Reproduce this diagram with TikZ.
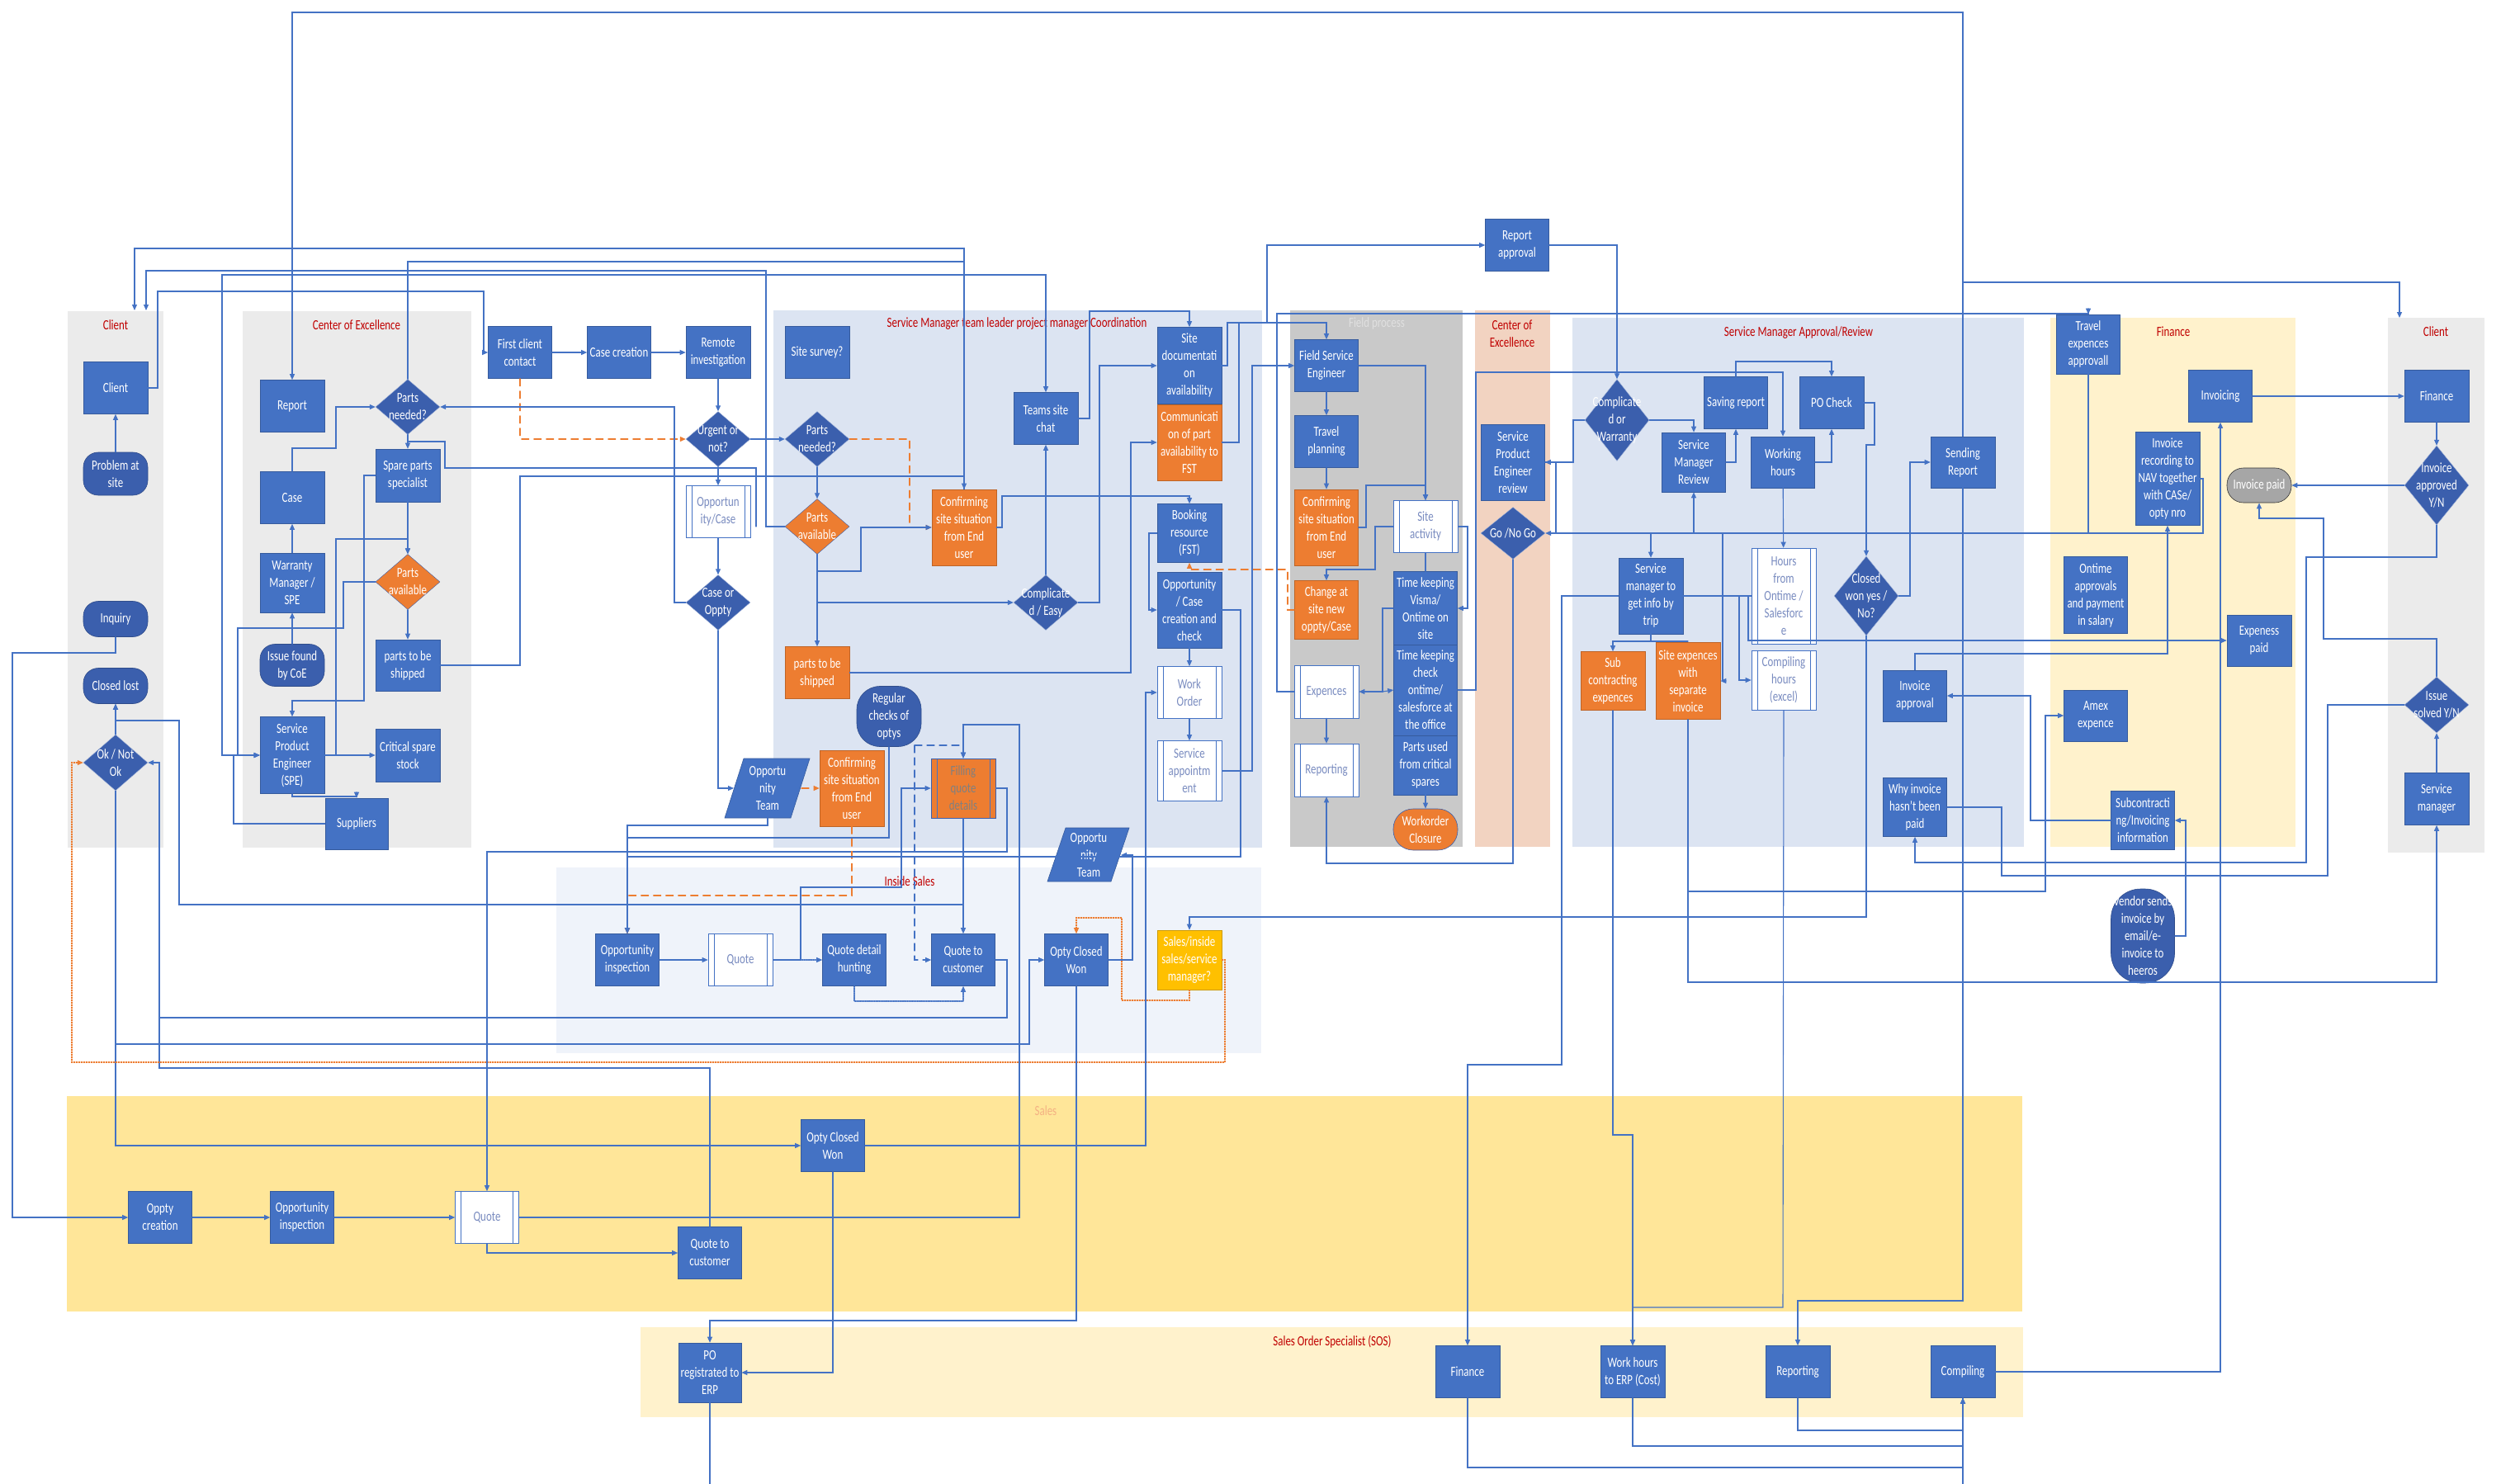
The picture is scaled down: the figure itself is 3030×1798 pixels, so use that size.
\documentclass[tikz,border=0pt]{standalone}
\usepackage{fontspec}
\setmainfont{Carlito}[FakeStretch=0.76]
\usetikzlibrary{shapes.geometric,arrows.meta}

\definecolor{boxblue}{HTML}{4472C4}
\definecolor{darkblue}{HTML}{3B5FAD}
\definecolor{orng}{HTML}{ED7D31}
\definecolor{gold}{HTML}{FFC000}
\definecolor{lanegray}{HTML}{EBEBEB}
\definecolor{fieldgray}{HTML}{C9C9C9}
\definecolor{peach}{HTML}{F2D3C1}
\definecolor{laneblue}{HTML}{DCE4F2}
\definecolor{paleblue}{HTML}{EFF3FA}
\definecolor{finyel}{HTML}{FFF2CC}
\definecolor{salesyel}{HTML}{FFE699}
\definecolor{titlered}{HTML}{C00000}
\definecolor{subtxt}{HTML}{7A8CC0}

\begin{document}
\begin{tikzpicture}[
			x=1pt, y=-1pt,
			line cap=round,
			font={\fontsize{17}{21}\selectfont},
			>={Triangle[length=7pt,width=6pt]},
			lanetitle/.style={text=titlered, align=center},
			base/.style={rectangle, align=center, inner sep=1pt, minimum width=78pt, minimum height=63pt, text=white, line width=0.6pt},
			box/.style={base, fill=boxblue, draw=boxblue!80!black},
			obox/.style={base, fill=orng, draw=orng!80!black},
			ybox/.style={base, fill=gold, draw=gold!80!black},
			term/.style={base, fill=darkblue, draw=darkblue!80!black, rounded corners=18pt},
			sub/.style={base, fill=white, draw=boxblue, text=subtxt,
				path picture={\draw[boxblue, line width=0.8pt]
					([xshift=7pt]path picture bounding box.north west) -- ([xshift=7pt]path picture bounding box.south west)
					([xshift=-7pt]path picture bounding box.north east) -- ([xshift=-7pt]path picture bounding box.south east);}},
			osub/.style={sub, fill=orng, draw=darkblue, text=gray},
			dia/.style={diamond, fill=darkblue, draw=white!55!darkblue, inner sep=0pt, minimum width=78pt, minimum height=67pt},
			odia/.style={dia, fill=orng, draw=darkblue},
			dtxt/.style={text=white, align=center, inner sep=0pt},
			ptxt/.style={base, minimum width=80pt, minimum height=70pt},
			paraback/.style={fill=boxblue, draw=boxblue!80!black, line width=0.6pt},
			ln/.style={draw=boxblue, line width=1.1pt},
			ar/.style={ln, ->},
			odash/.style={draw=orng, line width=1.1pt, dash pattern=on 9pt off 6pt},
			odot/.style={draw=orng, line width=1.1pt, dash pattern=on 1.5pt off 1.5pt},
			bdash/.style={dash pattern=on 9pt off 6pt},
		]
			\useasboundingbox (0,0) rectangle (3030,1798);

			\fill[lanegray] (82,377) rectangle (198,1027);
			\fill[lanegray] (294,377) rectangle (571,1027);
			\fill[laneblue] (937,376) rectangle (1529,1027);
			\fill[fieldgray] (1563,376) rectangle (1772,1026);
			\fill[peach] (1787,376) rectangle (1878,1026);
			\fill[laneblue] (1905,385) rectangle (2452,1026);
			\fill[finyel] (2484,385) rectangle (2781,1026);
			\fill[lanegray] (2893,385) rectangle (3010,1033);
			\fill[paleblue] (674,1051) rectangle (1528,1276);
			\fill[salesyel] (81,1328) rectangle (2450,1589);
			\fill[finyel] (776,1608) rectangle (2451,1717);

			\node[lanetitle] (tcl) at (140,394) {Client};
			\node[lanetitle] (tcoe) at (432,394) {Center of Excellence};
			\node[lanetitle] (tsmc) at (1232,392) {Service Manager team leader project manager Coordination};
			\node[lanetitle, text=white!88!black] (tfld) at (1668,392) {Field process};
			\node[lanetitle] (tcoe2) at (1832,404) {Center of\\Excellence};
			\node[lanetitle] (tsma) at (2179,403) {Service Manager Approval/Review};
			\node[lanetitle] (tfin) at (2633,402) {Finance};
			\node[lanetitle] (tcl2) at (2951,402) {Client};
			\node[lanetitle] (tins) at (1102,1068) {Inside Sales};
			\node[lanetitle, text=orng!60!white] (tsal) at (1267,1346) {Sales};
			\node[lanetitle] (tsos) at (1614,1626) {Sales Order Specialist (SOS)};

			\node[box] (cli) at (140,470) {Client};
			\node[term, minimum height=52pt] (prob) at (140,574) {Problem at\\site};
			\node[term, minimum height=43pt] (inq) at (140,750) {Inquiry};
			\node[term, minimum height=43pt] (clost) at (140,831) {Closed lost};
			\node[dia, minimum height=68pt, label={[dtxt]center:Ok / Not\\Ok}] (oknok) at (140,924) {};

			\node[box] (rep) at (354,492) {Report};
			\node[dia, label={[dtxt]center:Parts\\needed?}] (pnc) at (494,493) {};
			\node[box, minimum height=64pt] (sps) at (494,576) {Spare parts\\specialist};
			\node[box] (case) at (354,603) {Case};
			\node[box, minimum height=72pt] (wm) at (354,706) {Warranty\\Manager /\\SPE};
			\node[odia, label={[dtxt]center:Parts\\available}] (pac) at (494,705) {};
			\node[term, minimum height=51pt] (iss) at (354,806) {Issue found\\by CoE};
			\node[box, minimum height=62pt] (ptsc) at (494,806) {parts to be\\shipped};
			\node[box, minimum height=93pt] (spe) at (354,915) {Service\\Product\\Engineer\\(SPE)};
			\node[box, minimum height=64pt] (css) at (494,915) {Critical spare\\stock};
			\node[box, minimum width=76pt, minimum height=62pt] (sup) at (432,998) {Suppliers};

			\node[box, minimum width=77pt] (fcc) at (630,427) {First client\\contact};
			\node[box, minimum width=77pt] (ccr) at (750,427) {Case creation};
			\node[box] (rinv) at (870,427) {Remote\\investigation};
			\node[box] (ssv) at (990,427) {Site survey?};
			\node[dia, label={[dtxt]center:Urgent or\\not?}] (urg) at (870,532) {};
			\node[dia, label={[dtxt]center:Parts\\needed?}] (pn2) at (990,532) {};
			\node[sub] (opc) at (870,620) {Opportun\\ity/Case};
			\node[odia, label={[dtxt]center:Parts\\available}] (pa2) at (990,638) {};
			\node[dia, label={[dtxt]center:Case or\\Oppty}] (coo) at (870,730) {};
			\node[obox] (pts2) at (990,815) {parts to be\\shipped};
			\node[term, minimum height=73pt, rounded corners=28pt] (reg) at (1077,868) {Regular\\checks of\\optys};
			\fill[paraback] (878,991) -- (901,919) -- (981,919) -- (958,991) -- cycle;
			\node[ptxt] (ot1) at (930,955) {Opportu\\nity\\Team};
			\node[obox, minimum height=92pt] (cfl) at (1032,955) {Confirming\\site situation\\from End\\user};
			\node[obox, minimum height=92pt] (cfu) at (1168,639) {Confirming\\site situation\\from End\\user};
			\node[box] (tsc) at (1267,507) {Teams site\\chat};
			\node[dia, label={[dtxt]center:Complicate\\d / Easy}] (ce) at (1267,730) {};
			\node[box, minimum height=93pt] (sdoc) at (1441,443) {Site\\documentati\\on\\availability};
			\node[obox, minimum height=92pt] (comm) at (1441,536) {Communicati\\on of part\\availability to\\FST};
			\node[box, minimum height=71pt] (book) at (1441,646) {Booking\\resource\\(FST)};
			\node[box, minimum height=92pt] (oca) at (1441,739) {Opportunity\\/ Case\\creation and\\check};
			\node[sub] (wo) at (1441,839) {Work\\Order};
			\node[sub, minimum height=73pt] (sapp) at (1441,934) {Service\\appointm\\ent};
			\node[osub, minimum height=72pt] (fqd) at (1167,955) {Filling\\quote\\details};
			\fill[paraback] (1269,1068) -- (1291,1003) -- (1368,1003) -- (1346,1068) -- cycle;
			\node[ptxt, minimum height=65pt] (ot2) at (1319,1036) {Opportu\\nity\\Team};

			\node[box, minimum width=77pt] (fse) at (1607,443) {Field Service\\Engineer};
			\node[box, minimum width=77pt] (tp) at (1607,535) {Travel\\planning};
			\node[obox, minimum width=77pt, minimum height=92pt] (cff) at (1607,639) {Confirming\\site situation\\from End\\user};
			\node[obox, minimum width=77pt, minimum height=71pt] (chg) at (1607,739) {Change at\\site new\\oppty/Case};
			\node[sub, minimum height=64pt] (exp) at (1607,838) {Expences};
			\node[sub, minimum height=64pt] (rptf) at (1607,933) {Reporting};
			\node[sub] (sact) at (1727,638) {Site\\activity};
			\node[box, minimum width=77pt, minimum height=89pt] (tkv) at (1727,737) {Time keeping\\Visma/\\Ontime on\\site};
			\node[box, minimum width=77pt, minimum height=110pt] (tkc) at (1727,836) {Time keeping\\check\\ontime/\\salesforce at\\the office};
			\node[box, minimum width=77pt, minimum height=72pt] (pu) at (1727,927) {Parts used\\from critical\\spares};
			\node[term, fill=orng, draw=darkblue, minimum height=50pt, rounded corners=24pt] (woc) at (1727,1005) {Workorder\\Closure};

			\node[box, minimum width=77pt] (repa) at (1838,297) {Report\\approval};
			\node[box, minimum width=77pt, minimum height=92pt] (sper) at (1833,560) {Service\\Product\\Engineer\\review};
			\node[dia, minimum height=63pt, label={[dtxt]center:Go /No Go}] (gng) at (1833,646) {};

			\node[dia, minimum height=99pt, label={[dtxt]center:Complicate\\d or\\Warranty}] (cow) at (1959,509) {};
			\node[box, minimum width=77pt] (svr) at (2103,488) {Saving report};
			\node[box] (poc) at (2219,488) {PO Check};
			\node[box, minimum width=77pt, minimum height=72pt] (smr) at (2052,560) {Service\\Manager\\Review};
			\node[box, minimum width=77pt, minimum height=62pt] (wh) at (2160,560) {Working\\hours};
			\node[box, minimum height=62pt] (sndr) at (2378,560) {Sending\\Report};
			\node[box, minimum height=92pt] (smi) at (2000,722) {Service\\manager to\\get info by\\trip};
			\node[sub, minimum height=116pt] (hrs) at (2161,722) {Hours\\from\\Ontime /\\Salesforc\\e};
			\node[dia, minimum height=96pt, label={[dtxt]center:Closed\\won yes /\\No?}] (cwn) at (2261,722) {};
			\node[obox, minimum height=71pt] (subc) at (1954,825) {Sub\\contracting\\expences};
			\node[obox, minimum height=93pt] (sexp) at (2045,825) {Site expences\\with\\separate\\invoice};
			\node[sub, minimum height=72pt] (cmph) at (2161,824) {Compiling\\hours\\(excel)};
			\node[box, minimum width=77pt, minimum height=62pt] (iapp) at (2320,843) {Invoice\\approval};
			\node[box, minimum width=77pt, minimum height=71pt] (why) at (2320,978) {Why invoice\\hasn't been\\paid};

			\node[box, minimum width=77pt, minimum height=72pt] (tea) at (2530,417) {Travel\\expences\\approvall};
			\node[box, minimum width=77pt] (invc) at (2690,480) {Invoicing};
			\node[box, minimum height=113pt] (nav) at (2626,580) {Invoice\\recording to\\NAV together\\with CASe/\\opty nro};
			\node[term, fill=gray!70, draw=gray!40!black, minimum height=42pt, rounded corners=20pt] (ipd) at (2737,588) {Invoice paid};
			\node[box, minimum width=77pt, minimum height=93pt] (ota) at (2539,721) {Ontime\\approvals\\and payment\\in salary};
			\node[box, minimum height=62pt] (expd) at (2737,776) {Expeness\\paid};
			\node[box, minimum width=77pt, minimum height=62pt] (amx) at (2539,867) {Amex\\expence};
			\node[box, minimum width=77pt, minimum height=71pt] (sci) at (2596,994) {Subcontracti\\ng/Invoicing\\information};
			\node[term, minimum width=77pt, minimum height=114pt, rounded corners=36pt] (vnd) at (2596,1134) {Vendor sends\\invoice by\\email/e-\\invoice to\\heeros};

			\node[box] (fin) at (2952,480) {Finance};
			\node[dia, minimum height=96pt, label={[dtxt]center:Invoice\\approved\\Y/N}] (iay) at (2952,588) {};
			\node[dia, minimum height=68pt, label={[dtxt]center:Issue\\solved Y/N}] (isy) at (2952,854) {};
			\node[box] (smg) at (2952,968) {Service\\manager};

			\node[box, minimum width=77pt] (oi1) at (760,1163) {Opportunity\\inspection};
			\node[sub] (q1) at (897,1163) {Quote};
			\node[box, minimum width=77pt] (qdh) at (1035,1163) {Quote detail\\hunting};
			\node[box, minimum width=77pt] (qtc1) at (1167,1163) {Quote to\\customer};
			\node[box, minimum width=77pt] (ocw1) at (1304,1163) {Opty Closed\\Won};
			\node[ybox, minimum height=72pt] (sism) at (1441,1163) {Sales/inside\\sales/service\\manager?};

			\node[box, minimum width=77pt] (ocr) at (194,1475) {Oppty\\creation};
			\node[box, minimum width=77pt] (oi2) at (366,1475) {Opportunity\\inspection};
			\node[sub, minimum width=77pt] (q2) at (590,1475) {Quote};
			\node[box, minimum width=77pt] (qtc2) at (860,1518) {Quote to\\customer};
			\node[box, minimum width=77pt] (ocw2) at (1009,1388) {Opty Closed\\Won};

			\node[box, minimum width=76pt, minimum height=72pt] (po) at (860,1663) {PO\\registrated to\\ERP};
			\node[box] (fsos) at (1778,1662) {Finance};
			\node[box] (whe) at (1978,1662) {Work hours\\to ERP (Cost)};
			\node[box] (rsos) at (2178,1662) {Reporting};
			\node[box] (cmp) at (2378,1662) {Compiling};

			\coordinate (cl1) at (163,376);
			\coordinate (cl2) at (177,376);
			\coordinate (cr1) at (2907,385);
			\coordinate (rgx) at (1108,903);

			\draw[ar] (prob) -- (cli);
			\draw[ar] (cli.east) -- (191,470) -- (191,353) -- (586,353) |- (fcc.west);
			\draw[ar] (fcc) -- (ccr);
			\draw[ar] (ccr) -- (rinv);
			\draw[ar] (rinv) -- (urg);
			\draw[odash, ->] (fcc.south) |- (urg.west);
			\draw[ar] (urg) -- (pn2);
			\draw[ar] (urg) -- (opc);
			\draw[ar] (opc) -- (coo);
			\draw[ar] (coo.south) |- (889,955);
			\draw[odash, ->] (971,955) -- (cfl.west);
			\draw[ar] (coo.west) -- (817,730) |- (pnc.east);
			\draw[ar] (pnc) -- (sps);
			\draw[ar] (sps) -- (pac);
			\draw[ar] (pac) -- (ptsc);
			\draw[ar] (wm) -- (case);
			\draw[ar] (iss) -- (wm);
			\draw[ar] (case.north) -- (354,543) -- (407,543) |- (pnc.west);
			\draw[ar] (sps.west) -- (441,576) -- (441,849) -| (spe.north);
			\draw[ar] (pac.west) -- (416,705) -- (416,761) -- (288,761) |- (spe.west);
			\draw[ar] (spe) -- (css);
			\draw[ar] (spe.east) -- (407,915) -- (407,653) -| (pac.north);
			\draw[ar] (spe.south) -- (354,965) -| (sup.north);
			\draw[ar] (sup.west) -- (283,998) |- (spe.west);
			\draw[ln, <->] (tsc.north) |- (269,333) |- (spe.west);
			\draw[ar] (pa2.west) -- (928,638) |- (177,328) -- (cl2);
			\draw[ln] (916,638) |- (539,567) -- (539,535) -- (494,535) -- (pnc.south);
			\draw[ar] (ptsc.east) -- (630,806) -- (630,577) -| (cfu.north);
			\draw[ar] (cfu.north) |- (163,301) -- (cl1);
			\draw[ln] (cfu.north) |- (494,317) -- (pnc.north);

			\draw[ar] (inq.south) -- (140,791) -- (15,791) |- (ocr.west);
			\draw[ar] (oknok) -- (clost);
			\draw[ar] (fqd) -- (qtc1);
			\draw[ar] (1167,1096) -- (217,1096) -- (217,873) -- (140,873) -- (clost.south);
			\draw[ar] (qtc2.north) |- (193,1294) |- (oknok.east);
			\draw[ln] (qtc1.east) -- (1220,1163) |- (193,1233);
			\draw[ar] (oknok.south) |- (ocw2.west);
			\draw[ar] (140,1265) -- (1247,1265) |- (ocw1.west);
			\draw[odot, ->] (sism.east) -- (1484,1163) |- (87,1287) |- (oknok.west);
			\draw[odot, ->] (sism.south) |- (1359,1212) |- (1304,1112) -- (ocw1.north);

			\draw[ar] (oi1) -- (q1);
			\draw[ln] (q1.east) -- (970,1163);
			\draw[ar, densely dotted] (970,1163) -- (qdh.west);
			\draw[ar] (970,1163) |- (1092,1075) |- (fqd.west);
			\draw[ar, densely dotted] (qdh.south) -- (1035,1213) -| (qtc1.south);
			\draw[ar, bdash] (rgx) -| (fqd.north);
			\draw[ar, bdash] (rgx) |- (qtc1.west);
			\draw[ar] (q2.east) -- (1235,1475) |- (1167,878) -- (fqd.north);
			\draw[ar] (fqd.east) -- (1220,955) |- (590,1032) -- (q2.north);
			\draw[ar] (reg.south) |- (760,1015) -- (oi1.north);
			\draw[ar] (930,991) |- (760,1000) -- (oi1.north);
			\draw[odash, ->] (cfl.south) |- (760,1085) -- (oi1.north);
			\draw[ar] (oca.east) -- (1503,739) |- (760,1038) -- (oi1.north);
			\draw[ar] (ocw1.east) -- (1372,1163) |- (1358,1036);
			\draw[ar] (ocw2.east) -- (1388,1388) |- (wo.west);
			\draw[ar] (book.west) -- (1392,646) |- (oca.west);
			\draw[ar] (cwn.south) |- (1441,1111) -- (sism.north);
			\draw[ar] (ocw1.south) |- (860,1600) -- (po.north);
			\draw[ar] (ocw2.south) |- (po.east);
			\draw[ln] (po.south) -- (860,1798);
			\draw[ar] (ocr) -- (oi2);
			\draw[ar] (oi2) -- (q2);
			\draw[ar] (q2.south) |- (qtc2.west);

			\draw[odash, ->] (pn2.east) -- (1102,532) |- (cfu.west);
			\draw[ar] (pn2) -- (pa2);
			\draw[ar] (pa2) -- (pts2);
			\draw[ar] (pa2.south) -- (990,692) -- (1043,692) |- (cfu.west);
			\draw[ar] (pa2.south) |- (ce.west);
			\draw[ar] (ce) -- (tsc);
			\draw[ar] (ce.east) -- (1332,730) |- (sdoc.west);
			\draw[ar] (tsc.east) -| (1320,377) -| (sdoc.north);
			\draw[ar] (pts2.east) -- (1370,815) |- (comm.west);
			\draw[ar] (cfu.east) -| (1214,601) -| (book.north);
			\draw[ar] (oca) -- (wo);
			\draw[ar] (wo) -- (sapp);
			\draw[ar] (sapp.east) -- (1517,934) |- (fse.west);
			\draw[ar] (sdoc.east) -| (1487,391) -| (fse.north);
			\draw[ln] (comm.east) -| (1501,391);
			\draw[ar] (1535,391) |- (repa.west);
			\draw[ar] (repa.east) -| (cow.north);
			\draw[odash, ->] (chg.west) -- (1560,739) -- (1560,690) -| (book.south);

			\draw[ar] (fse) -- (tp);
			\draw[ar] (tp) -- (cff);
			\draw[ar] (fse.east) -| (sact.north);
			\draw[ar] (cff.east) -- (1655,639) -- (1655,588) -| (sact.north);
			\draw[ar] (sact.west) -- (1666,638) |- (1607,690) -- (chg.north);
			\draw[ar] (sact.east) -- (1778,638) |- (tkv.east);
			\draw[ln] (sact) -- (tkv);
			\draw[ar] (tkv.west) -- (1675,737) |- (exp.east);
			\draw[ar] (1675,838) -- (tkc.west);
			\draw[ar] (exp) -- (rptf);
			\draw[ar] (pu) -- (woc);
			\draw[ar] (tkc.east) -- (1788,836) |- (2160,451) -- (wh.north);
			\draw[ar] (exp.west) -- (1547,838) |- (2530,380) -- (tea.north);
			\draw[ar] (gng.south) |- (1607,1046) -- (rptf.south);

			\draw[ar] (cow.west) -- (1906,509) |- (sper.east);
			\draw[ar] (cow.east) -| (smr.north);
			\draw[ar] (smr.east) -| (svr.south);
			\draw[ar] (svr.north) |- (2219,438) -- (poc.north);
			\draw[ar] (wh.east) -| (poc.south);
			\draw[ar] (wh) -- (hrs);
			\draw[ar] (poc.east) -- (2271,488) |- (2261,539) -- (cwn.north);
			\draw[ar] (cwn.east) -- (2314,722) |- (sndr.west);
			\draw[ar] (tea.south) |- (gng.east);
			\draw[ln] (nav.east) -- (2669,580) |- (2530,646);
			\draw[ar] (2052,646) -- (smr.south);
			\draw[ar] (2000,646) -- (smi.north);
			\draw[ln] (sper.east) -- (1885,560) -- (1885,646);
			\draw[ln] (smi) -- (hrs);
			\draw[ar] (2107,722) |- (cmph.west);
			\draw[ar] (2087,646) |- (sexp.east);
			\draw[ar] (smi.south) -- (2000,777) -| (subc.north);
			\draw[ln] (2000,777) -- (2045,777);
			\draw[ar] (2118,722) |- (expd.west);
			\draw[ar] (iapp.north) |- (2626,792) -- (nav.south);
			\draw[ar] (sci.west) -- (2460,994) |- (iapp.east);
			\draw[ar] (vnd.east) -- (2648,1134) |- (sci.east);
			\draw[ar] (iay.south) |- (2794,675) |- (2320,1045) -- (why.south);
			\draw[ln] (why.east) -- (2425,978) |- (2820,1061) |- (isy.west);
			\draw[ar] (isy.north) |- (2815,774) |- (2737,628) -- (ipd.south);
			\draw[ar] (iay) -- (ipd);
			\draw[ar] (invc) -- (fin);
			\draw[ar] (fin) -- (iay);
			\draw[ar] (smg) -- (isy);
			\draw[ar] (sexp.south) -- (2045,1190) -| (smg.south);
			\draw[ar] (sexp.south) |- (2478,1080) |- (amx.west);

			\draw[ar] (cmp.east) -| (invc.south);
			\draw[ar] (fsos.south) |- (2378,1778) -- (cmp.south);
			\draw[ar] (whe.south) |- (2378,1752) -- (cmp.south);
			\draw[ar] (rsos.south) |- (2378,1733) -- (cmp.south);
			\draw[ln] (cmp.south) -- (2378,1798);
			\draw[ar] (smi.west) -- (1892,722) -- (1892,1290) -| (fsos.north);
			\draw[ar] (subc.south) -- (1954,1375) -| (whe.north);
			\draw[ar] (cmph.south) -- (2160,1584) -| (whe.north);
			\draw[ar] (sndr.south) -- (2378,1576) -| (rsos.north);
			\draw[ar] (sndr.north) |- (354,15) -- (rep.north);
			\draw[ar] (2378,342) -- (2907,342) -- (cr1);
		\end{tikzpicture}
\end{document}
